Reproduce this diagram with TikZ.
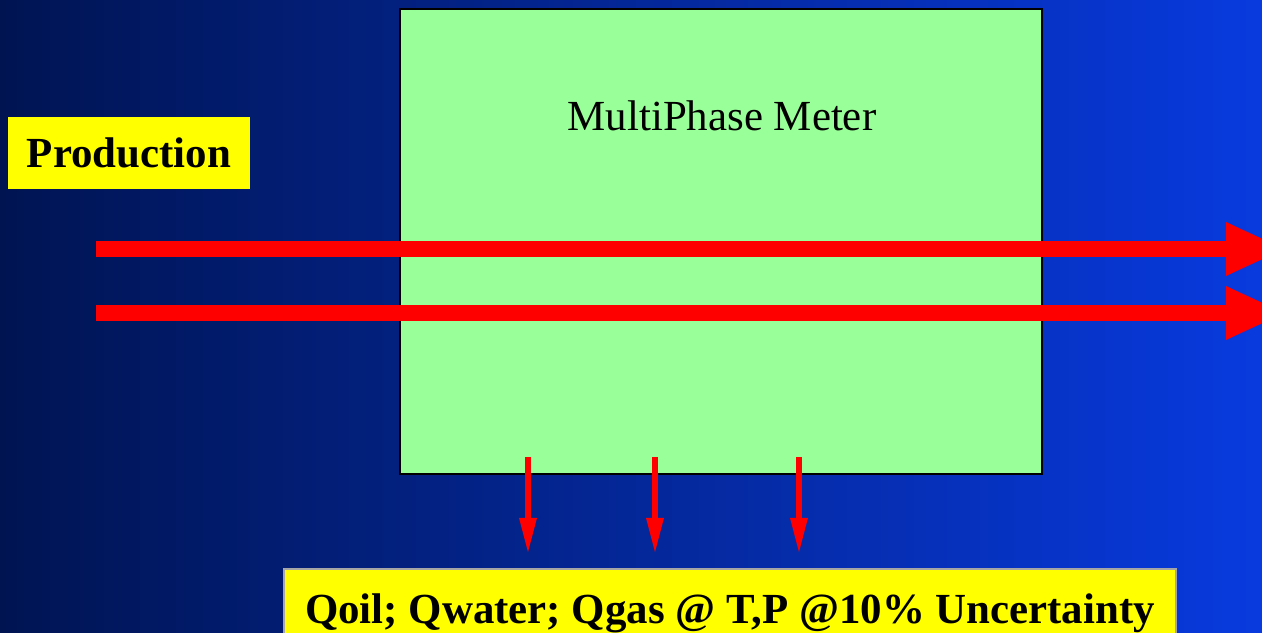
\documentclass[tikz,border=0pt]{standalone}
\usepackage{fontspec}
\setmainfont{Liberation Serif}
\usetikzlibrary{arrows.meta, positioning}
\definecolor{bgnavy}{RGB}{0, 20, 82}
\definecolor{bgblue}{RGB}{8, 58, 222}
\definecolor{metergreen}{RGB}{153, 255, 153}
\definecolor{flowred}{RGB}{255, 0, 0}
\definecolor{tagyellow}{RGB}{255, 255, 0}

\begin{document}
\begin{tikzpicture}[x=0.01cm, y=-0.01cm,
    meterbox/.style={draw=black, line width=0.7pt, fill=metergreen, minimum width=6.42cm, minimum height=4.65cm, inner sep=0pt},
    tagbox/.style={fill=tagyellow, font=\fontsize{12.2}{14}\selectfont\bfseries, inner sep=0pt},
    flow/.style={draw=flowred, line width=0.16cm, -{Triangle[length=0.58cm, width=0.54cm, line width=0pt]}},
    tap/.style={draw=flowred, line width=0.055cm, -{Triangle[length=0.34cm, width=0.18cm, line width=0pt]}}]
    \useasboundingbox (0, 0) rectangle (1262, 633);

    % Background
    \shade[left color=bgnavy, right color=bgblue] (0, 0) rectangle (1262, 633);

    % Meter
    \node[meterbox] (meter) at (721, 241.5) {};

    % Production streams
    \node[tagbox, minimum width=2.42cm, minimum height=0.72cm] (production) at (129, 153) {Production};
    \coordinate (upperin) at (96, 249);
    \coordinate (upperout) at (1284, 249);
    \coordinate (lowerin) at (96, 313);
    \coordinate (lowerout) at (1284, 313);
    \draw[flow] (upperin) -- (upperout);
    \draw[flow] (lowerin) -- (lowerout);

    \node (metertitle) at (722, 116) [font=\fontsize{12.2}{14}\selectfont] {MultiPhase Meter};

    % Outputs
    \foreach \x [count=\i] in {528, 655, 799} {
        \coordinate (tap\i) at (\x, 457);
        \coordinate (drop\i) at (\x, 552);
        \draw[tap] (tap\i) -- (drop\i);
    }
    \node[tagbox, draw=gray!70, line width=0.6pt, minimum width=8.92cm, anchor=north, text height=8.5pt, text depth=20pt, inner ysep=7pt] (result) at (730, 568) {Qoil; Qwater; Qgas @ T,P @10\% Uncertainty};
\end{tikzpicture}
\end{document}
